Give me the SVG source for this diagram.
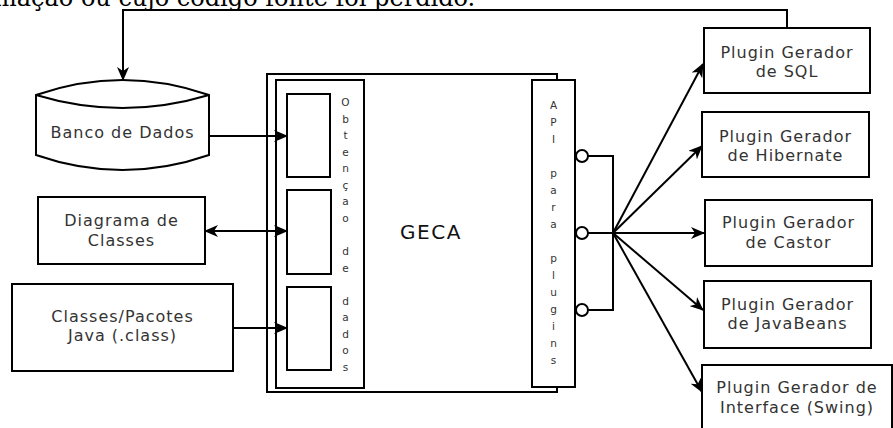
<svg xmlns="http://www.w3.org/2000/svg" width="893" height="428" viewBox="0 0 893 428">
<style>
.box{fill:#fff;stroke:#000;stroke-width:2}
.ln{fill:none;stroke:#000;stroke-width:2}
.t{font-family:"DejaVu Sans",sans-serif;font-size:16px;letter-spacing:1px;fill:#333;text-anchor:middle}
.v{font-family:"DejaVu Sans",sans-serif;font-size:10.5px;fill:#333;text-anchor:middle}
</style>
<defs>
<marker id="ah" markerUnits="userSpaceOnUse" markerWidth="14" markerHeight="12" viewBox="0 0 14 12" refX="13" refY="6" orient="auto-start-reverse">
<path d="M0,0 L14,6 L0,12 L4,6 z" fill="#000"/>
</marker>
</defs>
<rect width="893" height="428" fill="#fff"/>
<text x="-6" y="6" font-family="'DejaVu Serif',serif" font-size="24" fill="#000">mação ou cujo código fonte foi perdido.</text>

<g id="geca">
<rect class="box" x="267" y="74" width="290" height="318"/>
<text x="431" y="239" font-family="'DejaVu Sans',sans-serif" font-size="20" letter-spacing="1.5" fill="#111" text-anchor="middle">GECA</text>
</g>
<g id="obtencao">
<rect class="box" x="276" y="80" width="88" height="308"/>
<rect class="box" x="287" y="94" width="43" height="83"/>
<rect class="box" x="287" y="190" width="44" height="84"/>
<rect class="box" x="287" y="287" width="44" height="83"/>
<text class="v" x="345.5 345.5 345.5 345.5 345.5 345.5 345.5 345.5 345.5 345.5 345.5 345.5 345.5 345.5 345.5 345.5 345.5" y="106 122.6 139.1 155.7 172.2 188.8 205.3 221.9 238.4 255 271.5 288.1 304.6 321.2 337.7 354.3 370.8">Obtençao de dados</text>
</g>
<g id="api">
<rect class="box" x="532" y="80" width="43" height="307"/>
<text class="v" x="553.5 553.5 553.5 553.5 553.5 553.5 553.5 553.5 553.5 553.5 553.5 553.5 553.5 553.5 553.5 553.5" y="109 126 143 160 177 194 211 228 245 262 279 296 313 330 347 364">API para plugins</text>
</g>

<g id="banco">
<path class="box" d="M36,95 Q122.5,65 209,95 L209,155 Q122.5,185 36,155 Z"/>
<path class="ln" d="M36,95 Q122.5,121 209,95"/>
<text class="t" x="122.5" y="138">Banco de Dados</text>
</g>
<g id="diagrama">
<rect class="box" x="38" y="197" width="167" height="67"/>
<text class="t" x="121.5" y="226">Diagrama de</text>
<text class="t" x="121.5" y="245.5">Classes</text>
</g>
<g id="classes">
<rect class="box" x="12" y="284" width="221" height="87"/>
<text class="t" x="122.5" y="322">Classes/Pacotes</text>
<text class="t" x="122.5" y="341">Java (.class)</text>
</g>

<g id="p-sql">
<rect class="box" x="704" y="28" width="166" height="65"/>
<text class="t" x="787" y="58">Plugin Gerador</text>
<text class="t" x="787" y="77">de SQL</text>
</g>
<g id="p-hibernate">
<rect class="box" x="702" y="112" width="167" height="65"/>
<text class="t" x="785.5" y="142">Plugin Gerador</text>
<text class="t" x="785.5" y="161">de Hibernate</text>
</g>
<g id="p-castor">
<rect class="box" x="705" y="200" width="167" height="66"/>
<text class="t" x="788.5" y="228">Plugin Gerador</text>
<text class="t" x="788.5" y="248">de Castor</text>
</g>
<g id="p-javabeans">
<rect class="box" x="704" y="281" width="167" height="67"/>
<text class="t" x="787.5" y="310">Plugin Gerador</text>
<text class="t" x="787.5" y="329">de JavaBeans</text>
</g>
<g id="p-swing">
<rect class="box" x="702" y="365" width="190" height="80"/>
<text class="t" x="797" y="393">Plugin Gerador de</text>
<text class="t" x="797" y="413">Interface (Swing)</text>
</g>

<g id="connectors">
<path class="ln" d="M787,28 V10 H123 V80" marker-end="url(#ah)"/>
<line class="ln" x1="209" y1="136" x2="287" y2="136" marker-end="url(#ah)"/>
<line class="ln" x1="205" y1="231" x2="287" y2="231" marker-start="url(#ah)" marker-end="url(#ah)"/>
<line class="ln" x1="233" y1="328" x2="287" y2="328" marker-end="url(#ah)"/>
<path class="ln" d="M588,156 H613 V310 H588 M588,233 H613"/>
<circle class="box" cx="582" cy="156" r="6"/>
<circle class="box" cx="582" cy="233" r="6"/>
<circle class="box" cx="582" cy="310" r="6"/>
<line class="ln" x1="613" y1="233" x2="703" y2="64" marker-end="url(#ah)"/>
<line class="ln" x1="613" y1="233" x2="702" y2="146" marker-end="url(#ah)"/>
<line class="ln" x1="613" y1="233" x2="704" y2="233" marker-end="url(#ah)"/>
<line class="ln" x1="613" y1="233" x2="703" y2="310" marker-end="url(#ah)"/>
<line class="ln" x1="613" y1="233" x2="702" y2="392" marker-end="url(#ah)"/>
</g>
</svg>
